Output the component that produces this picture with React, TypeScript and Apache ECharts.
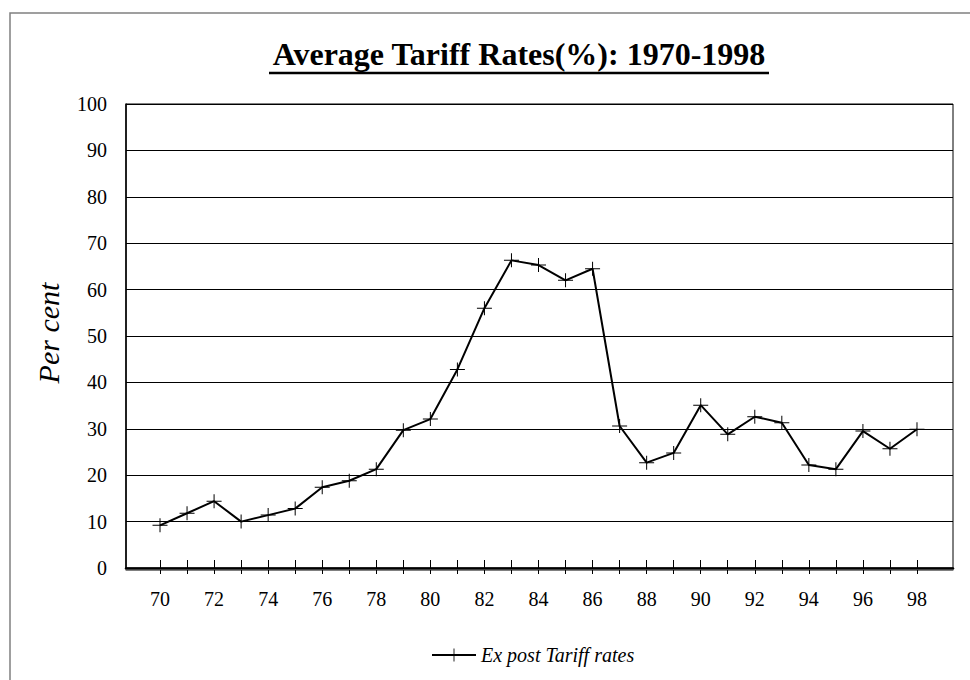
import React, { useEffect, useRef } from "react";
import * as echarts from "echarts";

const years = [70, 71, 72, 73, 74, 75, 76, 77, 78, 79, 80, 81, 82, 83, 84, 85, 86, 87, 88, 89, 90, 91, 92, 93, 94, 95, 96, 97, 98];
const tariffRates = [9.2, 11.8, 14.4, 10.0, 11.4, 12.8, 17.4, 18.8, 21.3, 29.7, 32.1, 42.8, 56.0, 66.3, 65.3, 62.0, 64.5, 30.6, 22.7, 24.8, 35.1, 28.8, 32.6, 31.3, 22.2, 21.3, 29.5, 25.7, 29.9];
const xLabelValues = [70, 72, 74, 76, 78, 80, 82, 84, 86, 88, 90, 92, 94, 96, 98];
const seriesName = "Ex post Tariff rates";
const titleText = "Average Tariff Rates(%): 1970-1998";
const yAxisName = "Per cent";

const SERIF = "'Liberation Serif', 'Times New Roman', serif";
const CROSS = "path://M0,6.5L15,6.5L15,7.5L0,7.5Z M7,0L8,0L8,14L7,14Z";

export default function App() {
  const ref = useRef<HTMLDivElement>(null);
  useEffect(() => {
    if (!ref.current) return;
    const chart = echarts.init(ref.current, null, { renderer: "svg" });
    const data = years.map((y, i) => [y, tariffRates[i]]);
    chart.setOption({
      animation: false,
      backgroundColor: "#fff",
      textStyle: { fontFamily: SERIF, color: "#000" },
      grid: {
        left: 126,
        right: 17,
        top: 104,
        bottom: 112,
        show: true,
        borderColor: "#000",
        borderWidth: 1,
        backgroundColor: "transparent",
      },
      legend: {
        data: [seriesName],
        left: 426,
        top: 640,
        itemWidth: 44,
        itemHeight: 16,
        itemGap: 6,
        textStyle: { fontFamily: SERIF, fontStyle: "italic", fontSize: 20, color: "#000" },
      },
      xAxis: [
        {
          type: "value",
          position: "bottom",
          min: 68.742,
          max: 99.332,
          splitLine: { show: false },
          axisLine: { show: true, onZero: false, lineStyle: { color: "#000", width: 2.5 } },
          axisTick: { show: true, inside: true, length: 8, customValues: years, lineStyle: { color: "#000", width: 1 } },
          axisLabel: { show: false },
        },
        {
          type: "value",
          position: "bottom",
          min: 68.742,
          max: 99.332,
          offset: 2,
          splitLine: { show: false },
          axisLine: { show: true, onZero: false, lineStyle: { color: "#808080", width: 1 } },
          axisTick: { show: true, inside: false, length: 4, customValues: years, lineStyle: { color: "#000", width: 1 } },
          axisLabel: {
            show: true,
            customValues: xLabelValues,
            margin: 19,
            fontFamily: SERIF,
            fontSize: 20,
            color: "#000",
          },
        },
      ],
      yAxis: {
        type: "value",
        min: 0,
        max: 100,
        interval: 10,
        axisLine: { show: true, lineStyle: { color: "#000", width: 1.5 } },
        axisTick: { show: false },
        axisLabel: { margin: 19, fontFamily: SERIF, fontSize: 20, color: "#000" },
        splitLine: { show: true, lineStyle: { color: "#000", width: 1 } },
      },
      series: [
        {
          name: seriesName,
          type: "line",
          xAxisIndex: 0,
          data,
          symbol: CROSS,
          symbolSize: [15, 14],
          showSymbol: true,
          itemStyle: { color: "#000" },
          lineStyle: { color: "#000", width: 2 },
          z: 5,
        },
      ],
      graphic: [
        {
          type: "rect",
          shape: { x: 10, y: 13, width: 1000, height: 700 },
          style: { fill: "none", stroke: "#808080", lineWidth: 1.5 },
          z: -10,
          silent: true,
        },
        {
          type: "text",
          x: 519,
          y: 54,
          style: {
            text: titleText,
            fill: "#000",
            font: `bold 32px ${SERIF}`,
            align: "center",
            verticalAlign: "middle",
          },
        },
        {
          type: "line",
          shape: { x1: 269, y1: 73, x2: 769, y2: 73 },
          style: { stroke: "#000", lineWidth: 2.5 },
        },
        {
          type: "text",
          x: 48,
          y: 333,
          rotation: Math.PI / 2,
          style: {
            text: yAxisName,
            fill: "#000",
            font: `italic 30px ${SERIF}`,
            align: "center",
            verticalAlign: "middle",
          },
        },
      ],
    });
    return () => chart.dispose();
  }, []);
  return <div ref={ref} style={{ position: "absolute", left: 0, top: 0, width: 970, height: 680 }} />;
}
